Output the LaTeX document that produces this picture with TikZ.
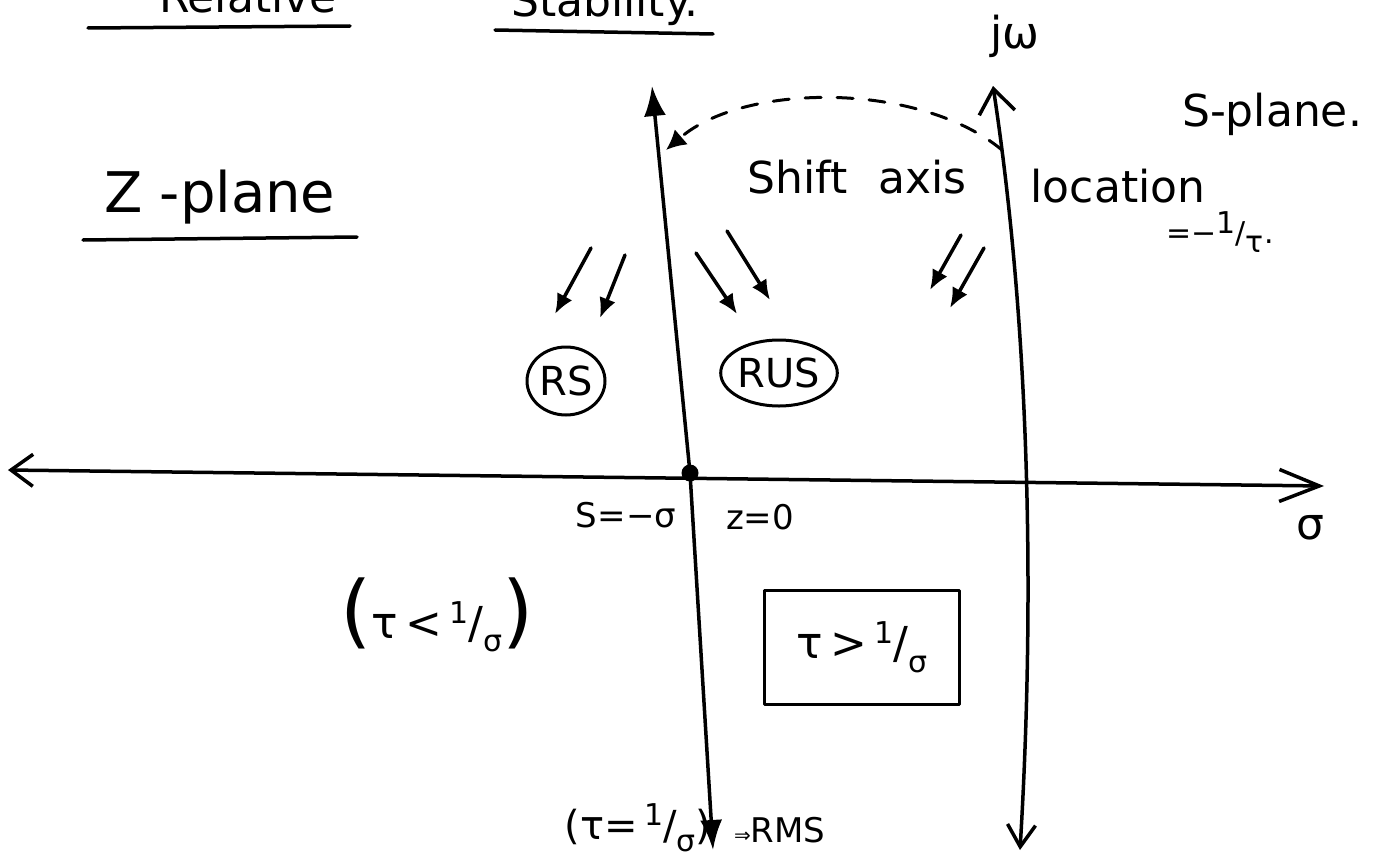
\documentclass[tikz,border=0pt]{standalone}
\usepackage{fontspec}
\setmainfont{DejaVu Sans}
\usetikzlibrary{arrows.meta,shapes.geometric}

% slanted hand-style fraction: raised numerator, lowered denominator
\newcommand{\slfrac}[2]{\raisebox{0.35em}{\fontsize{30}{30}\selectfont #1}/\raisebox{-0.3em}{\fontsize{30}{30}\selectfont #2}}
\newcommand{\bigparen}[1]{{\fontsize{80}{80}\selectfont #1}}

\begin{document}
\begin{tikzpicture}[x=1pt, y=-1pt, line cap=round, line join=round,
  axisline/.style={line width=3.5pt},
  hand/.style={font=\fontsize{44}{50}\selectfont, inner sep=0pt},
  smallhand/.style={font=\fontsize{34}{40}\selectfont, inner sep=0pt},
  tinyhand/.style={font=\fontsize{30}{34}\selectfont, inner sep=0pt},
  flow/.style={line width=3.5pt, -{Latex[length=20pt,width=17pt]}},
  regionmark/.style={draw, ellipse, line width=3pt, inner sep=0pt, font=\fontsize{40}{44}\selectfont},
  boxed/.style={draw, rectangle, line width=3pt, font=\fontsize{44}{50}\selectfont},
  underl/.style={line width=3.5pt}
]
\useasboundingbox (0,0) rectangle (1391,859);
\clip (0,0) rectangle (1391,859);

% heading, cut by the top edge
\node[hand, anchor=base] (hdA) at (248,13) {Relative};
\node[hand, anchor=base] (hdB) at (605,17) {Stability.};
\draw[underl] (88,28) -- (350,26);
\draw[underl] (495,30) -- (713,34);

% real axis (sigma)
\coordinate (hl) at (8,470);
\coordinate (hr) at (1324,486);
\draw[axisline, {Straight Barb[length=22pt,width=32pt,line width=3.5pt]}-{Straight Barb[length=40pt,width=32pt,line width=3.5pt]}] (hl) -- (hr);
\node[hand] (sig) at (1310,528) {σ};

% z-plane imaginary axis through the point s = -sigma
\coordinate (zt) at (652,86);
\coordinate (o) at (690,473);
\coordinate (zb) at (713,850);
\draw[axisline, {Latex[length=30pt,width=22pt]}-{Latex[length=30pt,width=22pt]}] (zt) -- (o) -- (zb);
\node[circle, fill, minimum size=17pt, inner sep=0pt] (dot) at (o) {};

% s-plane j omega axis
\coordinate (st) at (993,86);
\coordinate (sb) at (1020,850);
\draw[axisline, {Straight Barb[length=24pt,width=36pt,line width=3.5pt]}-{Straight Barb[length=22pt,width=28pt,line width=3.5pt]}]
  (st) .. controls (1030,330) and (1035,600) .. (sb);
\node[hand] (jw) at (1015,36) {jω};
\node[hand] (splane) at (1272,114) {S-plane.};

% axis shift
\coordinate (sh1) at (1002,150);
\coordinate (sh2) at (666,150);
\draw[line width=3pt, dash pattern=on 16pt off 16pt, -{Latex[length=20pt,width=20pt]}]
  (sh1) .. controls (920,82) and (745,82) .. (sh2);
\node[hand] (shift) at (857,177) {Shift\hspace{0.7em}axis};
\node[hand] (loc) at (1118,186) {location};
\node[tinyhand] (eq) at (1220,232) {=−\slfrac{1}{τ}.};

% z-plane label
\node[font=\fontsize{56}{60}\selectfont, inner sep=0pt] (zpl) at (220,197) {Z\hspace{0.3em}-plane};
\draw[underl] (83,240) -- (357,237);

% region mapping arrows
\coordinate (a1s) at (591,248); \coordinate (a1e) at (555,314);
\coordinate (a2s) at (625,255); \coordinate (a2e) at (600,318);
\coordinate (a3s) at (696,253); \coordinate (a3e) at (737,314);
\coordinate (a4s) at (727,231); \coordinate (a4e) at (770,300);
\coordinate (a5s) at (961,235); \coordinate (a5e) at (930,290);
\coordinate (a6s) at (984,248); \coordinate (a6e) at (950,308);
\draw[flow] (a1s) -- (a1e);
\draw[flow] (a2s) -- (a2e);
\draw[flow] (a3s) -- (a3e);
\draw[flow] (a4s) -- (a4e);
\draw[flow] (a5s) -- (a5e);
\draw[flow] (a6s) -- (a6e);

\node[regionmark, minimum width=78pt, minimum height=68pt] (rs) at (566,381) {RS};
\node[regionmark, minimum width=104pt, minimum height=66pt] (rus) at (779,373) {RUS};

% labels at the origin
\node[smallhand] (sl) at (626,515) {S=−σ};
\node[smallhand] (zl) at (760,517) {z=0};

% conditions
\node[hand] (lt) at (437,615) {\bigparen{(}τ\,<\,\slfrac{1}{σ}\bigparen{)}};
\node[boxed, minimum width=195pt, minimum height=114pt] (gt) at (862,647) {τ\,>\,\slfrac{1}{σ}};
\node[hand, font=\fontsize{40}{44}\selectfont] (eqc) at (638,828) {(τ=\,\slfrac{1}{σ})};
\node[smallhand, anchor=west] (rms) at (734,830) {{\fontsize{20}{20}\selectfont ⇒}RMS};

\end{tikzpicture}
\end{document}
